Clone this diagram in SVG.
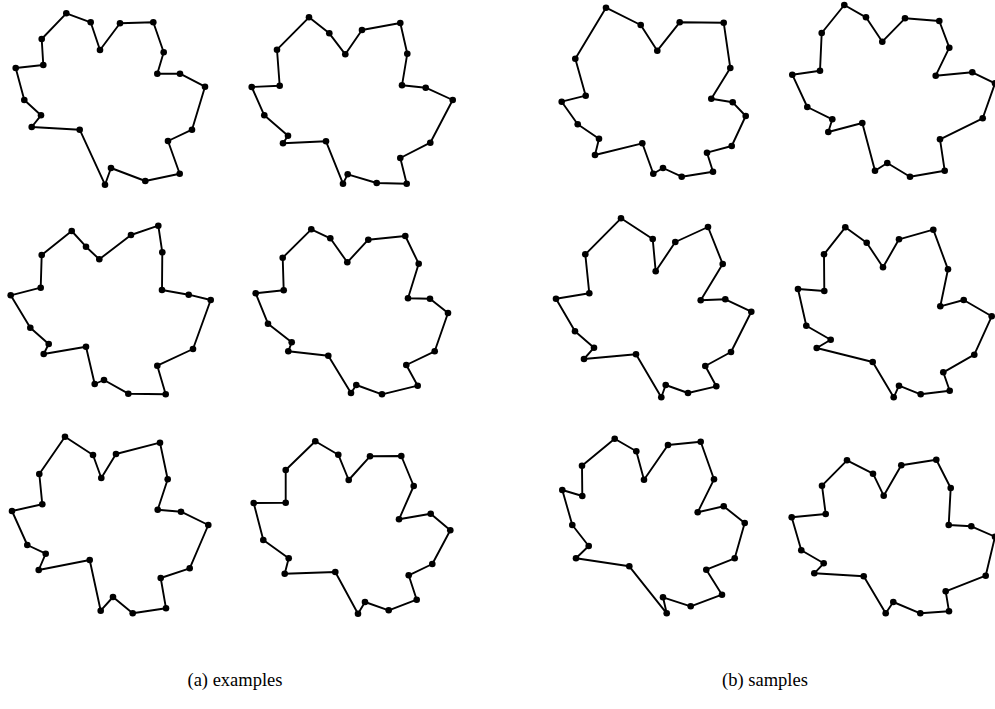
<svg xmlns="http://www.w3.org/2000/svg" width="995" height="709" viewBox="0 0 995 709">
<style>
.leaf{fill:none;stroke:#000;stroke-width:1.9;stroke-linejoin:round;marker-start:url(#dot);marker-mid:url(#dot)}
.cap{font-family:"Liberation Serif","DejaVu Serif",serif;font-size:18.5px;fill:#000;text-anchor:middle}
</style>
<defs>
<marker id="dot" markerUnits="userSpaceOnUse" markerWidth="10" markerHeight="10" refX="5" refY="5" viewBox="0 0 10 10" overflow="visible">
<circle cx="5" cy="5" r="3.3" fill="#000"/>
</marker>
</defs>
<rect width="995" height="709" fill="#fff"/>
<g id="examples">
<g id="ex1"><polygon class="leaf" points="66.3,13.3 90.7,22.3 100,50 120,23.3 153.3,22.3 163.7,52.3 157.3,73.7 180,73.7 205,86.7 192,129.7 168,141 179.7,173.7 145.3,181 111,168 105,184.7 79.7,129.7 31.7,127 41,115.3 24.3,100 15.7,68 43.3,65 41.7,39"/></g>
<g id="ex2"><polygon class="leaf" points="309,17.3 329.3,33.3 345.3,54.3 362,30 400.3,23 407.3,53.7 402,85.3 425.7,87.7 452.7,100 430.3,142.7 400.3,158 406.7,183.7 376.7,183 347.7,174.3 343,183.7 326,141.3 283,143.3 288,135.7 264.3,115.3 251.7,87 279.7,85.7 277,49.7"/></g>
<g id="ex3"><polygon class="leaf" points="71.7,231 86,246.7 99.3,259.3 131,235 158.3,225.7 162.3,252.3 162,290 188.7,294.7 210.7,300 193,349 157.3,365.7 165.7,394.3 128.3,393.7 104,380 94.7,384 86,346.7 43.7,354 48.7,344 30.3,327.7 10.7,295.3 40.7,287.7 41.7,255"/></g>
<g id="ex4"><polygon class="leaf" points="311.3,229.3 330.3,238.3 347.3,262.3 368.3,239.7 405.3,236 418.7,263.7 408,298.3 430,298.7 448,313 434.7,351.3 406.3,365 417.7,385.7 382,394.3 356.3,385 351,393 328.3,355.7 288.3,351.3 291.7,342.3 268,323.7 255.7,293.3 283.7,290.3 282.7,257.7"/></g>
<g id="ex5"><polygon class="leaf" points="65,436.7 93,455 101.3,478 116,454 160,442.7 167.7,479.3 157.7,509.7 181,511.7 208.3,525 189.7,568.3 160.7,578 166,608.3 132.7,613.3 113,597 100.7,610.7 89.7,560 38.7,570 45.7,553.7 27.3,545 12,511 42.3,504.3 39.3,474"/></g>
<g id="ex6"><polygon class="leaf" points="315.3,441.3 338.3,454.7 348.7,480 370,456.3 401.3,456 413.7,486 399,519.3 430.7,513.7 450.3,530.3 432.3,564 408.7,575.3 416.7,599.7 388.7,610.3 365,602 358,613.7 335.3,572 284.7,573.7 288.7,558.3 263.3,540 253.7,503 285.7,502.7 285.7,470"/></g>
</g>
<g id="samples">
<g id="sa1"><polygon class="leaf" points="606,7.7 640.7,25 657.3,50.7 679.7,22.3 723.7,22.7 730.3,68 711.3,98.7 732.7,102.3 745.7,116 731.7,146 707,152.7 713,171.7 681.7,176.7 663,168 653.3,173.7 642.3,143.3 595,155 599,138.7 577.7,124.3 561.7,101.7 585.7,95.7 575.3,58.7"/></g>
<g id="sa2"><polygon class="leaf" points="844.3,5 866,17.3 882.3,41.7 905,18.3 939.3,21 949.3,47.7 935.7,75.7 972.3,72.3 995,83.3 982.7,118.3 940,139.3 944.7,170.7 910,176.7 887.3,163 875,170.7 862.3,123 828.3,132 832.3,119.3 807.3,107 792.3,74.7 820,70.7 821.7,33"/></g>
<g id="sa3"><polygon class="leaf" points="621,218.3 652.7,239 655.7,271.3 675.3,242 708,227 722.7,264 700.7,300.3 725.3,299.3 751.3,311.7 731,352 705.3,366 716.3,386.3 688,393 665.7,385 661.3,397.3 636,354.3 584,359 594,347.7 575,331.3 556,298.7 589.3,293.3 585.3,254.3"/></g>
<g id="sa4"><polygon class="leaf" points="845.3,227.3 866.7,242.7 883,267.3 899,239.3 933.3,229.7 948,269.3 940.3,306.3 963.7,300 991.7,316.3 974.3,354.7 943.3,372.3 949.7,390.7 920.7,394.3 899,385.7 893.7,397.3 872.7,362 816.7,348 830.7,339.7 806.3,325.7 798,289 824.3,291 824,254.3"/></g>
<g id="sa5"><polygon class="leaf" points="614.7,438.7 636.3,451.3 644,479.7 668,445 700.7,441.7 714,479.3 697.7,512.3 723.7,506.3 744.7,523 734.7,558.3 706.3,569.7 722,594.7 690.7,606.3 663,597.3 666.7,613.3 629.3,566.3 576,558.3 588.7,546 572.3,525 562.3,490 582.3,496 582,465.7"/></g>
<g id="sa6"><polygon class="leaf" points="847,460.3 873,473.7 883.7,495.7 901.3,465.3 936.3,459.7 950.7,488 948.7,525 971.3,526.3 995,536.7 985.7,575.7 945.7,591.3 949,611.3 920.3,613.3 893.3,602 885.7,613.3 863.7,576.3 814.3,573.3 823.7,563.3 801.3,550.3 791.7,517.3 825.7,514 822,485.7"/></g>
</g>
<text class="cap" x="235" y="686">(a) examples</text>
<text class="cap" x="765" y="686">(b) samples</text>
</svg>
